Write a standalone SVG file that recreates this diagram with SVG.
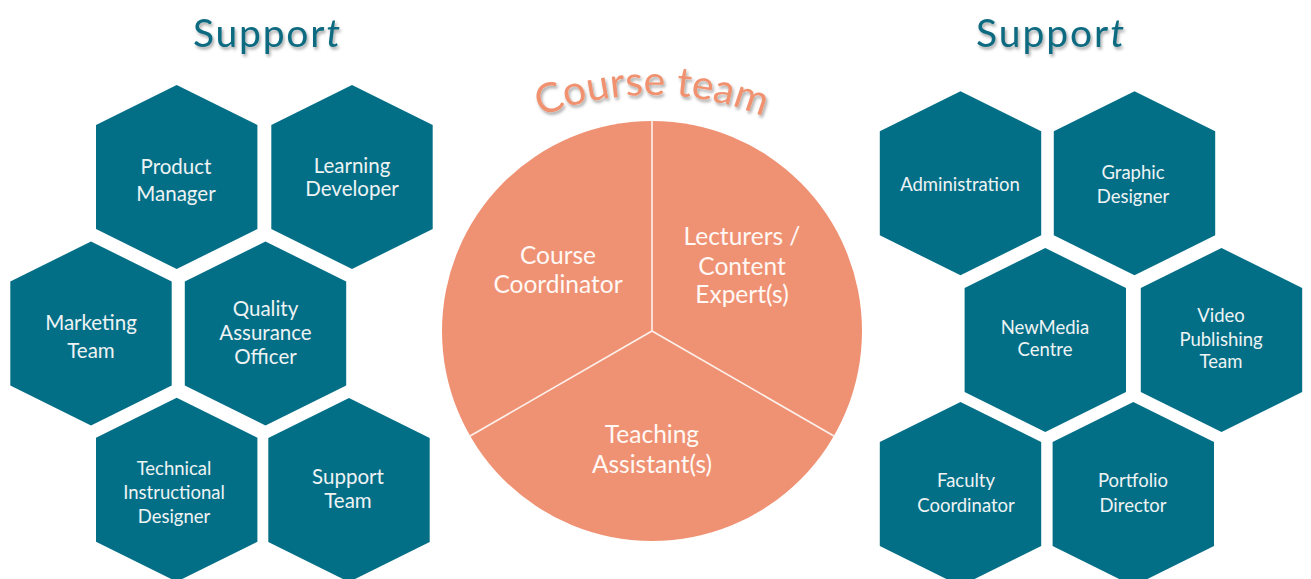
<svg xmlns="http://www.w3.org/2000/svg" xmlns:xlink="http://www.w3.org/1999/xlink" width="1311" height="579" viewBox="0 0 1311 579">
<defs>
<polygon id="hex" points="0,-92 80.7,-52 80.7,52 0,92 -80.7,52 -80.7,-52"/>
<filter id="sh" x="-10%" y="-30%" width="120%" height="160%">
<feDropShadow dx="1.5" dy="2.5" stdDeviation="1.6" flood-color="#000" flood-opacity="0.35"/>
</filter>
<path id="arc" d="M 352,395 A 300 300 0 0 1 952,395"/>
<style>
.hex{fill:#036f87}
.ht{font-family:Lato,"Liberation Sans",sans-serif;fill:#eef3f4;text-anchor:middle}
.l{font-size:20.5px}
.r{font-size:18.5px}
.pt{font-family:Lato,"Liberation Sans",sans-serif;fill:#fff8f4;text-anchor:middle;font-size:24.5px}
.title{font-family:Lato,"Liberation Sans",sans-serif;fill:#0b6b80;font-size:39px}
.ct{font-family:Lato,"Liberation Sans",sans-serif;fill:#f0916f;font-size:41px}
</style>
</defs>
<rect width="1311" height="579" fill="#fff"/>

<g id="title-left" filter="url(#sh)"><text class="title" x="193" y="47" textLength="147" lengthAdjust="spacing">Suppor<tspan font-style="italic">t</tspan></text></g>
<g id="title-right" filter="url(#sh)"><text class="title" x="976" y="47" textLength="148" lengthAdjust="spacing">Suppor<tspan font-style="italic">t</tspan></text></g>
<g id="title-course" filter="url(#sh)"><text class="ct"><textPath href="#arc" xlink:href="#arc" startOffset="50%" text-anchor="middle">Course team</textPath></text></g>

<g id="pie">
<circle cx="652" cy="331" r="210" fill="#ef9274"/>
<g id="connectors" stroke="#fdf1ec" stroke-width="1.6" fill="none">
<line x1="652" y1="331" x2="652" y2="121"/>
<line x1="652" y1="331" x2="470.1" y2="436"/>
<line x1="652" y1="331" x2="833.9" y2="436"/>
</g>
</g>
<g id="course-coordinator"><text class="pt" x="558" y="264">Course</text><text class="pt" x="558" y="293">Coordinator</text></g>
<g id="lecturers"><text class="pt" x="742" y="245">Lecturers /</text><text class="pt" x="742" y="274.5">Content</text><text class="pt" x="742" y="303">Expert(s)</text></g>
<g id="teaching-assistants"><text class="pt" x="652" y="443">Teaching</text><text class="pt" x="652" y="472.5">Assistant(s)</text></g>

<g id="product-manager"><use href="#hex" xlink:href="#hex" class="hex" x="176.7" y="177"/><text class="ht l" x="176" y="173.5">Product</text><text class="ht l" x="176" y="201">Manager</text></g>
<g id="learning-developer"><use href="#hex" xlink:href="#hex" class="hex" x="352" y="177"/><text class="ht l" x="352" y="172.5">Learning</text><text class="ht l" x="352" y="195.5">Developer</text></g>
<g id="marketing-team"><use href="#hex" xlink:href="#hex" class="hex" x="91" y="333.5"/><text class="ht l" x="91" y="330">Marketing</text><text class="ht l" x="91" y="358">Team</text></g>
<g id="quality-assurance"><use href="#hex" xlink:href="#hex" class="hex" x="265.5" y="333.5"/><text class="ht l" x="265.5" y="315.5">Quality</text><text class="ht l" x="265.5" y="340">Assurance</text><text class="ht l" x="265.5" y="363.5">Officer</text></g>
<g id="technical-instructional-designer"><use href="#hex" xlink:href="#hex" class="hex" x="176.7" y="489.7"/><text class="ht r" x="174" y="475">Technical</text><text class="ht r" x="174" y="499">Instructional</text><text class="ht r" x="174" y="522.5">Designer</text></g>
<g id="support-team"><use href="#hex" xlink:href="#hex" class="hex" x="349" y="490"/><text class="ht l" x="348" y="484">Support</text><text class="ht l" x="348" y="508">Team</text></g>

<g id="administration"><use href="#hex" xlink:href="#hex" class="hex" x="960.5" y="183.3"/><text class="ht r" x="960" y="190.5">Administration</text></g>
<g id="graphic-designer"><use href="#hex" xlink:href="#hex" class="hex" x="1134.5" y="183.3"/><text class="ht r" x="1133" y="179">Graphic</text><text class="ht r" x="1133" y="203">Designer</text></g>
<g id="newmedia-centre"><use href="#hex" xlink:href="#hex" class="hex" x="1045.3" y="340"/><text class="ht r" x="1045" y="334">NewMedia</text><text class="ht r" x="1045" y="356">Centre</text></g>
<g id="video-publishing-team"><use href="#hex" xlink:href="#hex" class="hex" x="1221.5" y="340"/><text class="ht r" x="1221" y="321.5">Video</text><text class="ht r" x="1221" y="345.5">Publishing</text><text class="ht r" x="1221" y="368">Team</text></g>
<g id="faculty-coordinator"><use href="#hex" xlink:href="#hex" class="hex" x="960.5" y="494"/><text class="ht r" x="966" y="487">Faculty</text><text class="ht r" x="966" y="511.5">Coordinator</text></g>
<g id="portfolio-director"><use href="#hex" xlink:href="#hex" class="hex" x="1133.3" y="494"/><text class="ht r" x="1133" y="487">Portfolio</text><text class="ht r" x="1133" y="511.5">Director</text></g>
</svg>
